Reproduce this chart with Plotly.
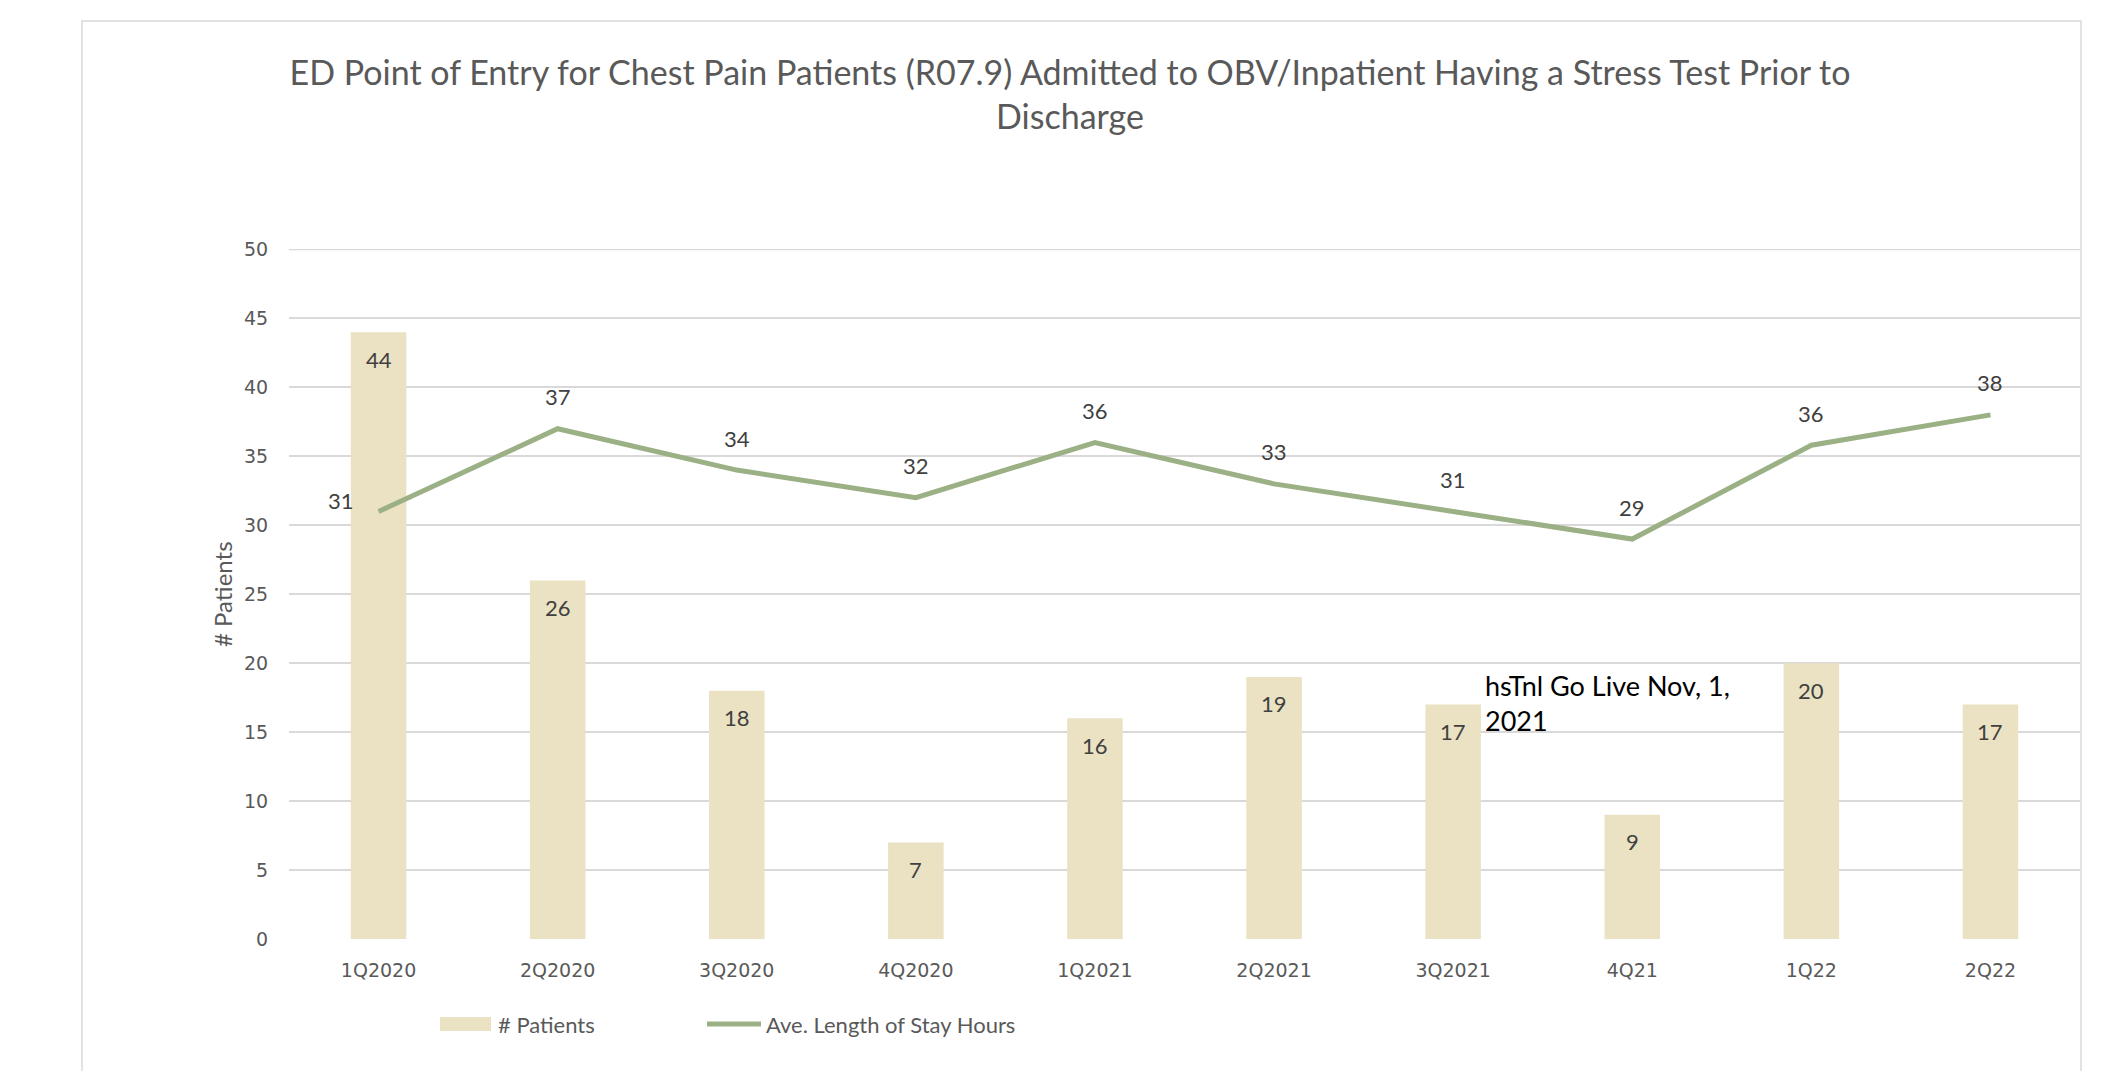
import plotly.graph_objects as go

# ---- data ----
quarters = ["1Q2020", "2Q2020", "3Q2020", "4Q2020", "1Q2021", "2Q2021",
            "3Q2021", "4Q21", "1Q22", "2Q22"]
patients = [44, 26, 18, 7, 16, 19, 17, 9, 20, 17]
los_hours = [31, 37, 34, 32, 36, 33, 31, 29, 35.8, 38]
y_ticks = [0, 5, 10, 15, 20, 25, 30, 35, 40, 45, 50]

title_text = ("ED Point of Entry for Chest Pain Patients (R07.9) Admitted to "
              "OBV/Inpatient Having a Stress Test Prior to<br>Discharge")
bar_name = "# Patients"
line_name = "Ave. Length of Stay Hours"
note_text = "hsTnl Go Live Nov, 1,<br>2021"

# ---- layout geometry (page pixels; page body adds an 8px margin) ----
OFF = 8
W, H = 2110 - OFF, 1071 - OFF
PL, PR, PT, PB = 289 - OFF, 2080 - OFF, 249 - OFF, 939 - OFF


def px_x(x):
    return (x - OFF - PL) / (PR - PL)


def px_y(y):
    return (PB - (y - OFF)) / (PB - PT)


BAR_COLOR = "#EAE2C2"
LINE_COLOR = "#9BB084"
GRID = "#D9D9D9"
TXT = "#595959"
LBL = "#404040"
CAL = "Lato, 'Open Sans', sans-serif"
GOTH = "'DejaVu Sans', sans-serif"

fig = go.Figure()
fig.add_trace(go.Bar(x=quarters, y=patients, name=bar_name, width=0.31,
                     marker=dict(color=BAR_COLOR, line=dict(width=0)),
                     showlegend=False, hoverinfo="x+y"))
fig.add_trace(go.Scatter(x=quarters, y=los_hours, name=line_name, mode="lines",
                         line=dict(color=LINE_COLOR, width=5),
                         showlegend=False))

annotations = []
for q, p in zip(quarters, patients):
    annotations.append(dict(x=q, y=p, xref="x", yref="y", text=str(p),
                            showarrow=False, yshift=-27,
                            font=dict(family=CAL, size=22, color=LBL)))
for i, (q, v) in enumerate(zip(quarters, los_hours)):
    if i == 0:
        xs, ys = -38, 11
    else:
        xs, ys = 0, 32
    annotations.append(dict(x=q, y=v, xref="x", yref="y", text=f"{v:.0f}",
                            showarrow=False, xshift=xs, yshift=ys,
                            font=dict(family=CAL, size=22, color=LBL)))

# note
annotations.append(dict(x=px_x(1483), y=px_y(667), xref="paper", yref="paper",
                        text=note_text, showarrow=False, xanchor="left",
                        yanchor="top", align="left",
                        font=dict(family=CAL, size=27, color="#000000")))
# y-axis title
annotations.append(dict(x=px_x(222), y=0.5, xref="paper", yref="paper",
                        text=bar_name, showarrow=False, textangle=-90,
                        xanchor="center", yanchor="middle",
                        font=dict(family=CAL, size=24, color=TXT)))
# legend texts
annotations.append(dict(x=px_x(496), y=px_y(1024), xref="paper", yref="paper",
                        text=bar_name, showarrow=False, xanchor="left",
                        yanchor="middle", font=dict(family=CAL, size=22, color=TXT)))
annotations.append(dict(x=px_x(764), y=px_y(1024), xref="paper", yref="paper",
                        text=line_name, showarrow=False, xanchor="left",
                        yanchor="middle", font=dict(family=CAL, size=22, color=TXT)))

shapes = [
    # chart-area border
    dict(type="rect", xref="paper", yref="paper", layer="below",
         x0=px_x(82), x1=px_x(2081), y0=px_y(1095), y1=px_y(21),
         line=dict(color=GRID, width=1.5), fillcolor="rgba(0,0,0,0)"),
    # top gridline (at the axis maximum)
    dict(type="line", xref="paper", yref="y", layer="below",
         x0=0, x1=1, y0=y_ticks[-1], y1=y_ticks[-1],
         line=dict(color=GRID, width=1.5)),
    # legend swatches
    dict(type="rect", xref="paper", yref="paper",
         x0=px_x(440), x1=px_x(491), y0=px_y(1031), y1=px_y(1017),
         line=dict(width=0), fillcolor=BAR_COLOR),
    dict(type="line", xref="paper", yref="paper",
         x0=px_x(707), x1=px_x(761), y0=px_y(1024), y1=px_y(1024),
         line=dict(color=LINE_COLOR, width=5)),
]

fig.update_layout(
    width=W, height=H,
    margin=dict(l=PL, r=W - PR, t=PT, b=H - PB, pad=0),
    paper_bgcolor="white", plot_bgcolor="white",
    title=dict(text=title_text, x=(1070 - OFF) / W, xanchor="center",
               y=1 - (85 - OFF) / H, yanchor="top", yref="container",
               xref="container",
               font=dict(family=CAL, size=34, color=TXT)),
    showlegend=False,
    bargap=0.69,
    annotations=annotations,
    shapes=shapes,
    xaxis=dict(type="category", range=[-0.5, len(quarters) - 0.5],
               showgrid=False, showline=False, zeroline=False,
               ticks="outside", ticklen=14, tickcolor="rgba(0,0,0,0)",
               tickfont=dict(family=GOTH, size=19, color=TXT)),
    yaxis=dict(range=[0, 50.03], tickvals=y_ticks, showgrid=True,
               gridcolor=GRID, gridwidth=1.5, zeroline=False, showline=False,
               ticks="outside", ticklen=16, tickcolor="rgba(0,0,0,0)",
               tickfont=dict(family=GOTH, size=19, color=TXT)),
)

fig.write_html("out.html")
